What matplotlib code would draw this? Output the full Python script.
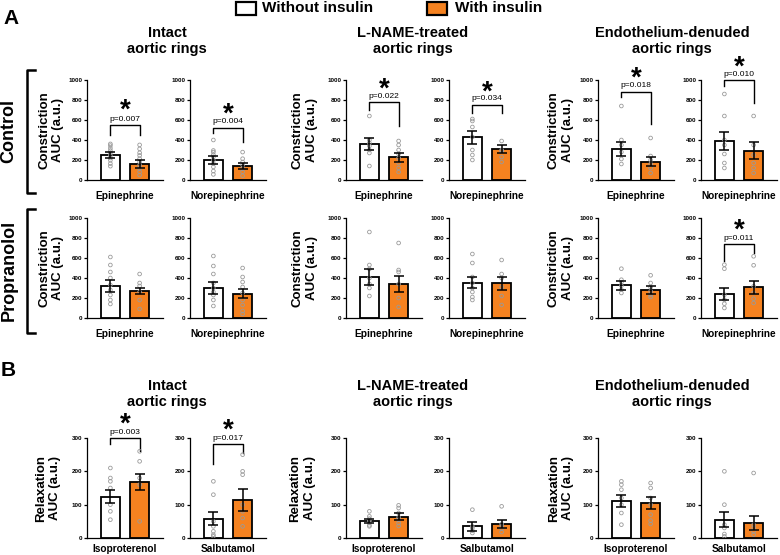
import numpy as np
import matplotlib
matplotlib.use("Agg")
import matplotlib.pyplot as plt
from matplotlib.patches import Rectangle
from matplotlib.lines import Line2D

plt.rcParams['font.family'] = ['Liberation Sans', 'DejaVu Sans']

# colours
orange = '#F58220'
grey = '#9a9a9a'

# panel order: intact epi/iso, intact norepi/salb, L-NAME x2, endo-denuded x2
ctrl_wo_mean = [252, 197, 362, 430, 306, 389]
ctrl_wo_sem = [33, 40, 58, 65, 70, 90]
ctrl_w_mean = [164, 141, 228, 309, 181, 295]
ctrl_w_sem = [40, 30, 47, 37, 45, 85]
ctrl_wo_pts = [[361, 344, 318, 295, 272, 246, 220, 197, 164, 138],
               [400, 295, 279, 252, 230, 197, 164, 131, 89, 56],
               [640, 400, 370, 340, 300, 270, 140],
               [610, 590, 530, 430, 300, 250, 200],
               [740, 400, 350, 280, 210, 160],
               [860, 640, 400, 350, 260, 170, 120]]
ctrl_w_pts = [[351, 311, 272, 246, 213, 180, 148, 115, 82, 49],
              [279, 213, 180, 148, 115, 82, 43],
              [390, 350, 300, 260, 220, 170, 120, 80],
              [390, 300, 290, 230, 180],
              [420, 240, 200, 160, 120, 70],
              [640, 350, 250, 170, 120, 70]]

prop_wo_mean = [321, 298, 410, 354, 327, 243]
prop_wo_sem = [58, 60, 80, 58, 45, 58]
prop_w_mean = [272, 242, 341, 348, 283, 307]
prop_w_sem = [33, 45, 76, 63, 40, 65]
prop_wo_pts = [[610, 530, 460, 400, 330, 280, 230, 180, 140],
               [620, 520, 440, 350, 300, 260, 230, 180, 120],
               [860, 530, 490, 400, 340, 300, 220],
               [640, 550, 410, 350, 300, 260, 210, 180],
               [493, 383, 357, 323, 283, 250],
               [533, 493, 233, 183, 143, 100]]
prop_w_pts = [[440, 350, 320, 260, 180, 90],
              [500, 410, 360, 310, 250, 180, 130, 70, 40],
              [750, 480, 460, 340, 200, 110],
              [580, 440, 400, 310, 220, 130],
              [427, 350, 307, 267, 233, 210],
              [617, 527, 317, 250, 193, 150]]

relax_wo_mean = [124, 58, 51, 35, 112, 55]
relax_wo_sem = [19, 19, 7, 13, 18, 23]
relax_w_mean = [168, 114, 64, 42, 105, 45]
relax_w_sem = [23, 32, 10, 13, 17, 21]
relax_wo_pts = [[210, 180, 170, 150, 100, 80, 55],
                [170, 130, 50, 35, 20, 10, 5],
                [80, 65, 58, 52, 45, 38, 35],
                [85, 35, 30, 22, 15],
                [170, 160, 145, 120, 100, 75, 40],
                [200, 100, 40, 30, 12, 5]]
relax_w_pts = [[260, 230, 180, 160, 50],
               [250, 200, 190, 100, 80, 60, 35],
               [98, 90, 75, 62, 55, 45, 36],
               [95, 42, 35, 28, 18],
               [165, 150, 120, 100, 70, 52, 42],
               [195, 40, 30, 20, 10]]

constrict_agents = ['Epinephrine', 'Norepinephrine'] * 3
relax_agents = ['Isoproterenol', 'Salbutamol'] * 3
ctrl_p = ['0.007', '0.004', '0.022', '0.034', '0.018', '0.010']
prop_p = [None, None, None, None, None, '0.011']
relax_p = ['0.003', '0.017', None, None, None, None]

# bracket layout: (left leg, top, right leg, p text, star) in data units
ctrl_brk = [(449, 548, 449, 607, 744), (466, 525, 377, 587, 705),
            (705, 778, 537, 839, 956), (671, 755, 671, 819, 933),
            (833, 878, 556, 944, 1069), (938, 1000, 771, 1059, 1181)]
prop_brk = [None] * 5 + [(567, 740, 650, 800, 933)]
relax_brk = [(282, 300, 261, 317, 356), (223, 282, 255, 300, 340)] + [None] * 4

W, H = 780, 555
fig = plt.figure(figsize=(7.8, 5.55), dpi=100)


def fx(x):
    return x / W


def fy(y):
    return 1 - y / H


ax_left = [87, 190, 346, 449, 598, 701]
ylab_off = [-0.47, None, -0.54, None, -0.49, None]
ylab_off3 = [-0.51, None, -0.57, None, -0.49, None]


def panel(x0, ytop, means_wo, sem_wo, means_w, sem_w, pts_wo, pts_w,
          ymax, yticks, agent, ylabel, yoff, pval, brk, xlab_off):
    ax = fig.add_axes([fx(x0), fy(ytop + 100), 76 / W, 100 / H])
    ax.bar([0, 1], [means_wo, means_w], width=0.64, color=['white', orange],
           edgecolor='black', linewidth=1.3, zorder=1)
    ax.scatter(np.zeros(len(pts_wo)), pts_wo, s=7, facecolors='none',
               edgecolors=grey, linewidths=0.6, zorder=3)
    ax.scatter(np.ones(len(pts_w)), pts_w, s=7, facecolors='none',
               edgecolors=grey, linewidths=0.6, zorder=3)
    ax.errorbar([0, 1], [means_wo, means_w], yerr=[sem_wo, sem_w], fmt='none',
                ecolor='black', elinewidth=1.1, capsize=3.5, capthick=1.1, zorder=4)
    ax.set_xlim(-0.8, 1.8)
    ax.set_ylim(0, ymax)
    ax.set_xticks([])
    ax.set_yticks(yticks, [str(t) for t in yticks], fontsize=4.5, fontweight='bold')
    ax.tick_params(axis='y', length=2.5, width=0.9, pad=1)
    for s in ['top', 'right']:
        ax.spines[s].set_visible(False)
    for s in ['left', 'bottom']:
        ax.spines[s].set_linewidth(0.9)
    ax.text(0.5, xlab_off, agent, transform=ax.transAxes, ha='center',
            va='center', fontsize=7.3, fontweight='bold')
    if ylabel is not None and yoff is not None:
        ax.text(yoff, 0.5, ylabel, transform=ax.transAxes, rotation=90,
                ha='center', va='center', fontsize=9.5, fontweight='bold',
                linespacing=1.25)
    if pval is not None:
        l, t, r, py, sy = brk
        ax.plot([0, 0, 1, 1], [l, t, t, r], color='black', lw=1, clip_on=False)
        ax.text(0.5, py, 'p=' + pval, ha='center', va='center', fontsize=6,
                clip_on=False)
        ax.annotate('*', xy=(0.5, sy), xytext=(0, -0.45 * 20), textcoords='offset points',
                    ha='center', va='baseline', fontsize=20, fontweight='bold',
                    annotation_clip=False)
    return ax


for i in range(6):
    panel(ax_left[i], 80, ctrl_wo_mean[i], ctrl_wo_sem[i], ctrl_w_mean[i], ctrl_w_sem[i],
          ctrl_wo_pts[i], ctrl_w_pts[i], 1000, [0, 200, 400, 600, 800, 1000],
          constrict_agents[i], 'Constriction\nAUC (a.u.)', ylab_off[i],
          ctrl_p[i], ctrl_brk[i], -0.16)
    panel(ax_left[i], 218, prop_wo_mean[i], prop_wo_sem[i], prop_w_mean[i], prop_w_sem[i],
          prop_wo_pts[i], prop_w_pts[i], 1000, [0, 200, 400, 600, 800, 1000],
          constrict_agents[i], 'Constriction\nAUC (a.u.)', ylab_off[i],
          prop_p[i], prop_brk[i], -0.16)
    panel(ax_left[i], 438, relax_wo_mean[i], relax_wo_sem[i], relax_w_mean[i], relax_w_sem[i],
          relax_wo_pts[i], relax_w_pts[i], 300, [0, 100, 200, 300],
          relax_agents[i], 'Relaxation\nAUC (a.u.)', ylab_off3[i],
          relax_p[i], relax_brk[i], -0.11)

# column titles
titles = ['Intact\naortic rings', 'L-NAME-treated\naortic rings',
          'Endothelium-denuded\naortic rings']
title_x = [167, 413, 672]
for t, x in zip(titles, title_x):
    fig.text(fx(x), fy(41), t, ha='center', va='center', fontsize=10.5,
             fontweight='bold', linespacing=1.2)
    fig.text(fx(x), fy(394), t, ha='center', va='center', fontsize=10.5,
             fontweight='bold', linespacing=1.2)

# panel letters
fig.text(fx(11), fy(18), 'A', ha='center', va='center', fontsize=15, fontweight='bold')
fig.text(fx(8), fy(371), 'B', ha='center', va='center', fontsize=15, fontweight='bold')

# row labels with brackets
for lab, yc, y0, y1 in [('Control', 131, 70, 193), ('Propranolol', 270, 209, 333)]:
    fig.text(fx(9), fy(yc), lab, rotation=90, ha='center', va='center',
             fontsize=13, fontweight='bold')
    fig.add_artist(Line2D([fx(35), fx(27), fx(27), fx(35)], [fy(y0), fy(y0), fy(y1), fy(y1)],
                          color='black', lw=1.8, transform=fig.transFigure))

# legend
fig.add_artist(Rectangle((fx(236), fy(15)), 20 / W, 13 / H, facecolor='white',
                         edgecolor='black', lw=1.6, transform=fig.transFigure))
fig.text(fx(262), fy(8.5), 'Without insulin', ha='left', va='center', fontsize=11,
         fontweight='bold')
fig.add_artist(Rectangle((fx(427), fy(15)), 20 / W, 13 / H, facecolor=orange,
                         edgecolor='black', lw=1.6, transform=fig.transFigure))
fig.text(fx(455), fy(8.5), 'With insulin', ha='left', va='center', fontsize=11,
         fontweight='bold')

fig.savefig('out.png', dpi=100)
